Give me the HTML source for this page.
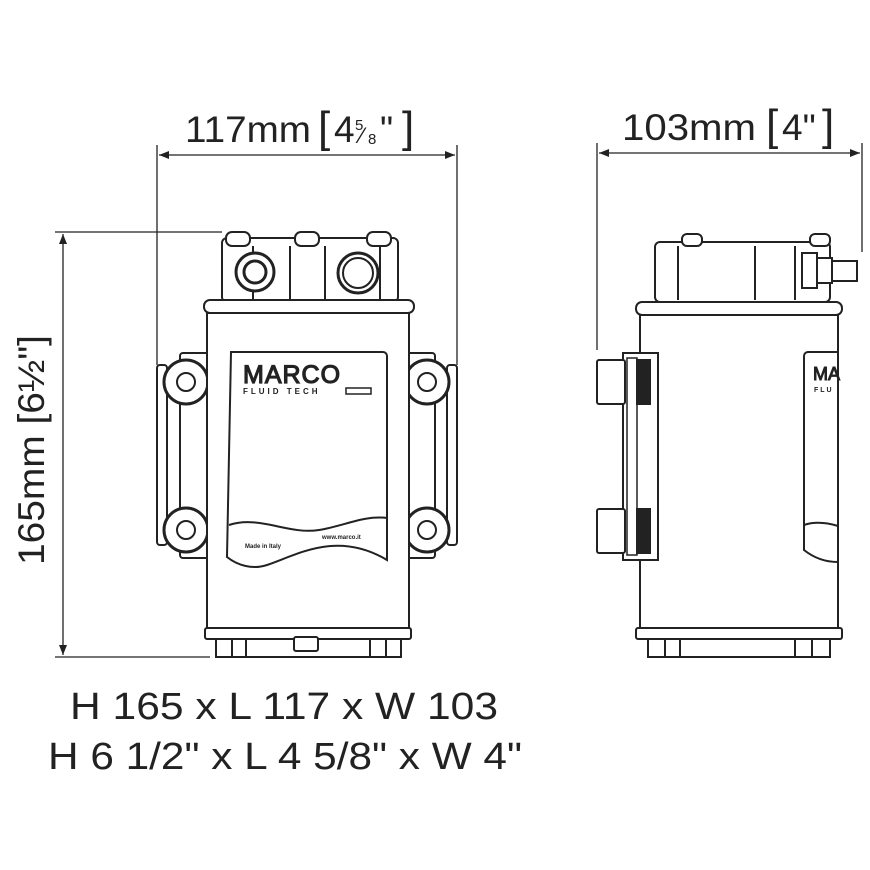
<!DOCTYPE html>
<html><head><style>
html,body{margin:0;padding:0;background:#fff;}
svg{display:block;}
text{font-family:"Liberation Sans",Arial,sans-serif;fill:#222;}
</style></head><body>
<svg width="870" height="870" viewBox="0 0 870 870" xmlns="http://www.w3.org/2000/svg">
<defs>
<marker id="a" viewBox="0 0 10 10" refX="10" refY="5" markerWidth="10" markerHeight="10" orient="auto-start-reverse" markerUnits="userSpaceOnUse"><path d="M0,1 L10,5 L0,9 z" fill="#222"/></marker>
</defs>
<g stroke="#222" stroke-width="1.3" fill="none">
<line x1="157" y1="145" x2="157" y2="365"/>
<line x1="457" y1="145" x2="457" y2="365"/>
<line x1="159" y1="155" x2="455" y2="155" marker-start="url(#a)" marker-end="url(#a)"/>
<line x1="55" y1="232" x2="222" y2="232"/>
<line x1="55" y1="657" x2="210" y2="657"/>
<line x1="63" y1="234" x2="63" y2="655" marker-start="url(#a)" marker-end="url(#a)"/>
<line x1="597" y1="143" x2="597" y2="350"/>
<line x1="862" y1="143" x2="862" y2="252"/>
<line x1="599" y1="153" x2="860" y2="153" marker-start="url(#a)" marker-end="url(#a)"/>
</g>
<text x="185" y="142" font-size="37" textLength="126" lengthAdjust="spacingAndGlyphs">117mm</text>
<text x="318" y="142" font-size="44">[</text>
<text x="334" y="142" font-size="37">4</text>
<text x="355" y="130" font-size="15">5</text>
<text x="360" y="143" font-size="22">⁄</text>
<text x="368" y="144" font-size="15">8</text>
<text x="380" y="142" font-size="37">"</text>
<text x="402" y="142" font-size="44">]</text>
<text x="622" y="140" font-size="37" textLength="134" lengthAdjust="spacingAndGlyphs">103mm</text>
<text x="766" y="140" font-size="44">[</text>
<text x="782" y="140" font-size="37">4"</text>
<text x="822" y="140" font-size="44">]</text>
<g transform="translate(44,450) rotate(-90)">
<text x="0" y="0" text-anchor="middle" font-size="37" textLength="230" lengthAdjust="spacingAndGlyphs">165mm [6½"]</text>
</g>
<text x="70" y="719" font-size="38" textLength="428" lengthAdjust="spacingAndGlyphs">H 165 x L 117 x W 103</text>
<text x="48" y="769" font-size="38" textLength="474" lengthAdjust="spacingAndGlyphs">H 6 1/2" x L 4 5/8" x W 4"</text>

<g stroke="#222" stroke-width="2" fill="#fff">
<rect x="180" y="353" width="30" height="205" rx="3"/>
<rect x="405" y="353" width="30" height="205" rx="3"/>
<rect x="157" y="365" width="10" height="180" rx="3"/>
<rect x="447" y="365" width="10" height="180" rx="3"/>
<circle cx="186" cy="382" r="22" stroke-width="3"/><circle cx="186" cy="382" r="9"/>
<circle cx="186" cy="530" r="22" stroke-width="3"/><circle cx="186" cy="530" r="9"/>
<circle cx="427" cy="382" r="22" stroke-width="3"/><circle cx="427" cy="382" r="9"/>
<circle cx="427" cy="530" r="22" stroke-width="3"/><circle cx="427" cy="530" r="9"/>
<rect x="222" y="238" width="176" height="64" rx="5"/>
<rect x="226" y="232" width="24" height="14" rx="6"/>
<rect x="295" y="232" width="24" height="14" rx="6"/>
<rect x="367" y="232" width="24" height="14" rx="6"/>
<line x1="253" y1="246" x2="253" y2="300"/><line x1="290" y1="246" x2="290" y2="300"/>
<line x1="325" y1="246" x2="325" y2="300"/><line x1="380" y1="246" x2="380" y2="300"/>
<circle cx="255" cy="272" r="19" stroke-width="3"/><circle cx="255" cy="272" r="11" stroke-width="3"/>
<circle cx="358" cy="273" r="20" stroke-width="3"/><circle cx="358" cy="273" r="15"/>
<rect x="204" y="300" width="210" height="13" rx="6"/>
<rect x="207" y="313" width="202" height="316"/>
<path d="M231 352 h152 a4 4 0 0 1 4 4 v204 c-50 -30 -90 -5 -120 5 c-15 5 -30 0 -40 -8 z"/>
<path d="M229 525 c30 -10 60 10 90 5 c25 -4 45 -15 68 -12" fill="none"/>
<text x="243" y="383" font-size="25" fill="#fff" stroke="#222" stroke-width="1.2" letter-spacing="1">MARCO</text>
<text x="243" y="394" font-size="8" font-weight="bold" fill="#222" stroke="none" letter-spacing="3">FLUID TECH</text>
<rect x="346" y="388" width="25" height="6" stroke-width="1.5"/>
<text x="245" y="548" font-size="6" fill="#222" stroke="none" font-weight="bold">Made in Italy</text>
<text x="322" y="539" font-size="6" fill="#222" stroke="none" font-weight="bold">www.marco.it</text>
<rect x="205" y="628" width="206" height="11" rx="2"/>
<rect x="216" y="639" width="185" height="18"/>
<line x1="232" y1="639" x2="232" y2="657"/><line x1="246" y1="639" x2="246" y2="657"/>
<line x1="370" y1="639" x2="370" y2="657"/><line x1="386" y1="639" x2="386" y2="657"/>
<rect x="294" y="637" width="24" height="14" rx="2"/>

<rect x="655" y="242" width="175" height="60" rx="5"/>
<rect x="682" y="234" width="20" height="12" rx="5"/>
<rect x="810" y="234" width="20" height="12" rx="5"/>
<line x1="678" y1="246" x2="678" y2="300"/><line x1="755" y1="246" x2="755" y2="300"/>
<line x1="795" y1="246" x2="795" y2="300"/>
<rect x="802" y="253" width="15" height="35"/>
<rect x="817" y="258" width="15" height="25"/>
<path d="M832 261 h25 v20 h-25 z"/>
<rect x="636" y="302" width="206" height="13" rx="6"/>
<rect x="640" y="315" width="198" height="314"/>
<path d="M838 352 h-30 a4 4 0 0 0 -4 4 v194 c10 8 22 12 34 12 z"/>
<path d="M804 525 c12 -4 24 -2 34 1" fill="none"/>
<text x="813" y="380" font-size="18" fill="#fff" stroke="#222" stroke-width="1">MA</text>
<text x="814" y="392" font-size="7" fill="#222" stroke="none" font-weight="bold" letter-spacing="2">FLU</text>
<rect x="623" y="353" width="35" height="207"/>
<rect x="627" y="358" width="10" height="197" stroke-width="1.5"/>
<rect x="597" y="360" width="28" height="44" rx="2"/>
<rect x="597" y="509" width="28" height="44" rx="2"/>
<rect x="637" y="360" width="13" height="44" fill="#222"/>
<rect x="637" y="509" width="13" height="44" fill="#222"/>
<rect x="636" y="628" width="206" height="11" rx="2"/>
<rect x="648" y="639" width="182" height="18"/>
<line x1="665" y1="639" x2="665" y2="657"/><line x1="680" y1="639" x2="680" y2="657"/>
<line x1="795" y1="639" x2="795" y2="657"/><line x1="812" y1="639" x2="812" y2="657"/>
</g>
</svg>
</body></html>
